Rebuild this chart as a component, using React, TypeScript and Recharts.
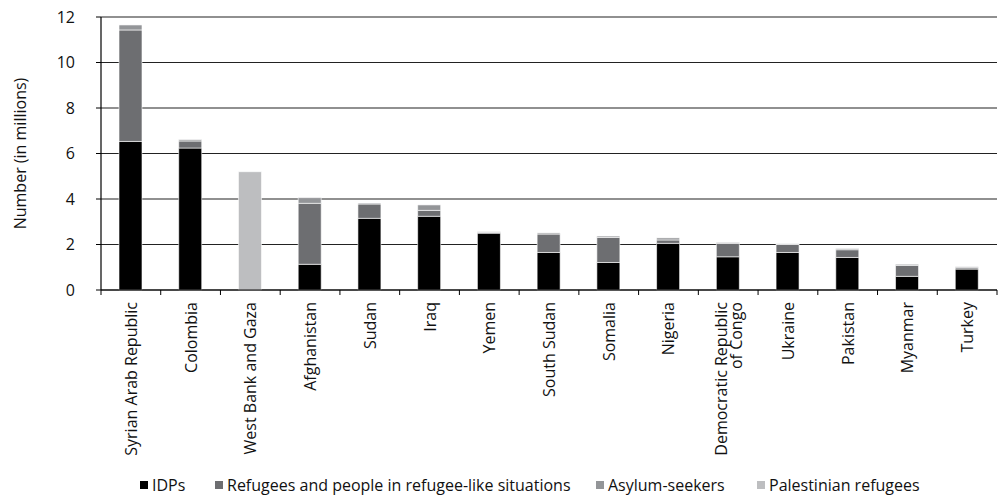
import { Bar, BarChart, CartesianGrid, Legend, XAxis, YAxis } from "recharts";

const countries = [
  "Syrian Arab Republic",
  "Colombia",
  "West Bank and Gaza",
  "Afghanistan",
  "Sudan",
  "Iraq",
  "Yemen",
  "South Sudan",
  "Somalia",
  "Nigeria",
  "Democratic Republic of Congo",
  "Ukraine",
  "Pakistan",
  "Myanmar",
  "Turkey",
];

// millions of people
const idps = [6.53, 6.24, 0, 1.13, 3.15, 3.24, 2.5, 1.65, 1.21, 2.05, 1.46, 1.65, 1.43, 0.6, 0.92];
const refugees = [4.9, 0.31, 0, 2.68, 0.63, 0.26, 0.03, 0.81, 1.1, 0.15, 0.59, 0.35, 0.34, 0.48, 0.06];
const asylum = [0.22, 0.06, 0, 0.25, 0.04, 0.24, 0.03, 0.05, 0.06, 0.09, 0.04, 0.03, 0.05, 0.05, 0.04];
const palestinian = [0, 0, 5.2, 0, 0, 0, 0, 0, 0, 0, 0, 0, 0, 0, 0];

const yTicks = [0, 2, 4, 6, 8, 10, 12];

const series = [
  { key: "idps", name: "IDPs", color: "#000000" },
  { key: "refugees", name: "Refugees and people in refugee-like situations", color: "#6d6e71" },
  { key: "asylum", name: "Asylum-seekers", color: "#939598" },
  { key: "palestinian", name: "Palestinian refugees", color: "#bdbec0" },
];

const data = countries.map((name, i) => ({
  name,
  idps: idps[i],
  refugees: refugees[i],
  asylum: asylum[i],
  palestinian: palestinian[i],
}));

const FONT = "'Open Sans', 'Noto Sans', sans-serif";

function CountryTick(props: any) {
  const { x, y, payload, index } = props;
  const half = payload?.offset ?? 29.9;
  const ty = y + 12;
  const label: string = payload.value;
  // Excel breaks the long name onto two lines
  const lines = label.includes(" of ") ? [label.split(" of ")[0], "of " + label.split(" of ")[1]] : [label];
  return (
    <g>
      <line x1={x - half} x2={x - half} y1={y} y2={y + 5} stroke="#000" strokeWidth={1} />
      {index === countries.length - 1 && (
        <line x1={x + half} x2={x + half} y1={y} y2={y + 5} stroke="#000" strokeWidth={1} />
      )}
      <text
        x={x}
        y={ty}
        transform={`rotate(-90, ${x}, ${ty})`}
        textAnchor="end"
        dominantBaseline="central"
        fontSize={16}
        fill="#111"
      >
        {lines.map((l, k) => (
          <tspan key={k} x={x} dy={k === 0 ? (lines.length > 1 ? -7.5 : 0) : 15.5}>
            {l}
          </tspan>
        ))}
      </text>
    </g>
  );
}

function LegendRow() {
  const widths = [75, 381, 161, 160];
  return (
    <div style={{ display: "flex", paddingLeft: 140, paddingTop: 9, fontSize: 16, lineHeight: "20px", color: "#111" }}>
      {series.map((s, i) => (
        <div key={s.key} style={{ width: widths[i], whiteSpace: "nowrap" }}>
          <span
            style={{
              display: "inline-block",
              width: 8,
              height: 8,
              background: s.color,
              marginRight: 4,
              position: "relative",
              top: -2,
            }}
          />
          {s.name}
        </div>
      ))}
    </div>
  );
}

export default function App() {
  return (
    <div style={{ position: "absolute", left: 0, top: 0, fontFamily: FONT }}>
      <BarChart width={999} height={496} data={data} margin={{ top: 17, right: 2, left: 0, bottom: 0 }}>
        <CartesianGrid vertical={false} stroke="#222" strokeWidth={1.2} />
        <XAxis
          dataKey="name"
          interval={0}
          height={176}
          tickSize={0}
          tickMargin={0}
          tickLine={false}
          axisLine={{ stroke: "#000", strokeWidth: 1.2 }}
          tick={<CountryTick />}
        />
        <YAxis
          domain={[0, 12]}
          ticks={yTicks}
          width={101}
          tickSize={5}
          tickMargin={21}
          tickLine={{ stroke: "#000" }}
          axisLine={{ stroke: "#000", strokeWidth: 1.2 }}
          tick={{ fontSize: 16, fill: "#111" }}
          label={{
            content: ({ viewBox }: any) => (
              <text
                x={20}
                y={viewBox.y + viewBox.height / 2}
                transform={`rotate(-90, 20, ${viewBox.y + viewBox.height / 2})`}
                textAnchor="middle"
                dominantBaseline="central"
                fontSize={16}
                fill="#111"
              >
                Number (in millions)
              </text>
            ),
          }}
        />
        <Legend verticalAlign="bottom" height={30} content={() => <LegendRow />} />
        {series.map((s) => (
          <Bar
            key={s.key}
            dataKey={s.key}
            name={s.name}
            stackId="a"
            fill={s.color}
            stroke="#fff"
            strokeWidth={0.6}
            barSize={23}
            isAnimationActive={false}
          />
        ))}
      </BarChart>
    </div>
  );
}
